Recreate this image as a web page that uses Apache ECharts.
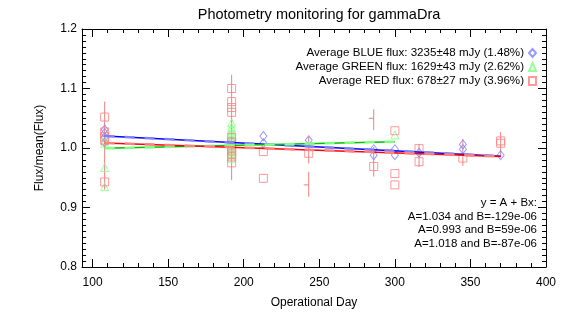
<!DOCTYPE html>
<html>
<head>
<meta charset="utf-8">
<script src="https://cdn.jsdelivr.net/npm/echarts@6/dist/echarts.min.js"></script>
<style>
  html, body { margin: 0; padding: 0; background: #fff; }
  #main { width: 581px; height: 322px; }
</style>
</head>
<body>
<div id="main"></div>
<script>
// 测光数据
var blueDays = [108, 108, 108, 108, 192, 213, 213, 243, 286, 286, 300, 300, 316, 345, 345, 370];
var blueFlux = [1.031, 1.025, 1.018, 1.009, 1.011, 1.020, 1.008, 1.013, 0.998, 0.988, 0.998, 0.988, 0.992, 1.006, 0.998, 0.988];

var greenDays = [108, 108, 108, 108, 192, 192, 192, 192, 192, 192, 192, 192, 192, 192, 192, 300];
var greenFlux = [1.013, 1.008, 0.967, 0.935, 1.042, 1.035, 1.030, 1.025, 1.020, 1.015, 1.005, 1.000, 0.995, 0.990, 0.983, 1.022];

var redDays = [108, 108, 108, 108, 108, 192, 192, 192, 192, 192, 192, 192, 192, 192, 192, 192, 213, 213, 243, 286, 300, 300, 300, 316, 316, 345, 370, 370];
var redFlux = [1.052, 1.027, 1.019, 1.013, 0.943, 1.100, 1.078, 1.068, 1.060, 1.018, 1.010, 1.000, 0.995, 0.990, 0.985, 0.975, 0.994, 0.949, 0.991, 0.969, 1.029, 0.957, 0.938, 0.999, 0.977, 0.983, 1.012, 1.008];

// 误差棒 [day, low, high]
var errDays = [108, 192, 243, 243, 286, 286, 316, 345, 370];
var errLow  = [0.930, 0.946, 0.974, 0.918, 1.030, 0.952, 0.968, 0.970, 0.985];
var errHigh = [1.078, 1.123, 1.019, 0.960, 1.065, 1.002, 1.007, 1.015, 1.027];
// 带小横线的点
var capDays = [243, 286];
var capFlux = [0.938, 1.050];

// 线性拟合 y = A + Bx
var fitA = [1.034, 0.993, 1.018];
var fitB = [-129e-6, 59e-6, -87e-6];
var fitStart = [108, 108, 108];
var fitEnd = [370, 300, 370];

var legendNames = ['BLUE', 'GREEN', 'RED'];
var legendText = {
  BLUE: 'Average BLUE flux: 3235\u00b148 mJy (1.48%)',
  GREEN: 'Average GREEN flux: 1629\u00b143 mJy (2.62%)',
  RED: 'Average RED flux: 678\u00b127 mJy (3.96%)'
};
var fitLines = ['y = A + Bx:', 'A=1.034 and B=-129e-06', 'A=0.993 and B=59e-06', 'A=1.018 and B=-87e-06'];

var xMajor = [100, 150, 200, 250, 300, 350, 400];
var xMinor = [];
for (var d = 100; d <= 400; d += 10) xMinor.push(d);

var font = 'Liberation Sans';

function pairs(xs, ys) {
  var out = [];
  for (var i = 0; i < xs.length; i++) out.push([xs[i], ys[i]]);
  return out;
}

var errData = [];
for (var i = 0; i < errDays.length; i++) errData.push([errDays[i], errLow[i], errHigh[i]]);

var darkColors = ['#0000ff', '#00c000', '#ff0000'];
var lightColors = ['#8080ff', '#80ff80', '#ff8080'];

function fitData(k) {
  return [[fitStart[k], fitA[k] + fitB[k] * fitStart[k]], [fitEnd[k], fitA[k] + fitB[k] * fitEnd[k]]];
}

var chart = echarts.init(document.getElementById('main'));

function xAx(pos, major) {
  return {
    type: 'value', min: 93, max: 400, position: pos,
    axisLine: { show: major, onZero: false, lineStyle: { color: '#000', width: 1 } },
    axisTick: { show: true, inside: true, length: major ? 8 : 4, customValues: major ? xMajor : xMinor, lineStyle: { color: '#000' } },
    axisLabel: { show: major && pos === 'bottom', customValues: xMajor, color: '#000', fontSize: 12, fontFamily: font, margin: 10 },
    splitLine: { show: false },
    name: (major && pos === 'bottom') ? 'Operational Day' : '',
    nameLocation: 'middle', nameGap: 30,
    nameTextStyle: { color: '#000', fontSize: 12, fontFamily: font }
  };
}

function yAx(pos) {
  return {
    type: 'value', min: 0.8, max: 1.2, interval: 0.1, position: pos,
    axisLine: { show: true, onZero: false, lineStyle: { color: '#000', width: 1 } },
    axisTick: { inside: true, length: 8, lineStyle: { color: '#000' } },
    minorTick: { show: true, splitNumber: 10, length: 4, lineStyle: { color: '#000' } },
    axisLabel: { show: pos === 'left', color: '#000', fontSize: 12, fontFamily: font, margin: 5,
      formatter: function(v) { return v.toFixed(1); } },
    splitLine: { show: false },
    name: pos === 'left' ? 'Flux/mean(Flux)' : '',
    nameLocation: 'middle', nameGap: 36,
    nameTextStyle: { color: '#000', fontSize: 12, fontFamily: font }
  };
}

var series = [];

// 误差棒
series.push({
  type: 'custom',
  data: errData,
  encode: { x: 0, y: [1, 2] },
  renderItem: function(params, api) {
    var top = api.coord([api.value(0), api.value(2)]);
    var bot = api.coord([api.value(0), api.value(1)]);
    return { type: 'line', shape: { x1: top[0], y1: top[1], x2: bot[0], y2: bot[1] },
      style: { stroke: '#f08080', lineWidth: 1 } };
  },
  z: 1
});
series.push({
  type: 'custom',
  data: pairs(capDays, capFlux),
  renderItem: function(params, api) {
    var p = api.coord([api.value(0), api.value(1)]);
    return { type: 'line', shape: { x1: p[0] - 5, y1: p[1], x2: p[0], y2: p[1] },
      style: { stroke: '#f08080', lineWidth: 1 } };
  },
  z: 1
});

var symbols = ['diamond', 'triangle', 'rect'];
var dayLists = [blueDays, greenDays, redDays];
var fluxLists = [blueFlux, greenFlux, redFlux];
for (var k = 0; k < 3; k++) {
  series.push({
    name: legendNames[k],
    type: 'scatter',
    data: pairs(dayLists[k], fluxLists[k]),
    symbol: symbols[k],
    symbolSize: k === 0 ? [7, 9] : 8,
    itemStyle: { color: 'rgba(0,0,0,0)', borderColor: lightColors[k], borderWidth: 1 },
    z: 2
  });
}
for (var k = 0; k < 3; k++) {
  series.push({
    type: 'line', data: fitData(k), symbol: 'none',
    lineStyle: { color: darkColors[k], width: 1.5 }, z: 3, silent: true
  });
  series.push({
    type: 'line', data: fitData(k), symbol: 'none',
    lineStyle: { color: lightColors[k], width: 2.5, type: [10, 10] }, z: 4, silent: true
  });
}

var graphics = [];
for (var i = 0; i < fitLines.length; i++) {
  graphics.push({
    type: 'text', x: 537, y: 203 + i * 13.5,
    style: { text: fitLines[i], textAlign: 'right', textVerticalAlign: 'middle', fill: '#000', font: '11.5px ' + font }
  });
}

var option = {
  animation: false,
  backgroundColor: '#fff',
  title: {
    text: 'Photometry monitoring for gammaDra',
    left: 314, top: 2, textAlign: 'center',
    textStyle: { color: '#000', fontSize: 14.5, fontWeight: 'normal', fontFamily: font }
  },
  grid: { left: 82, top: 29, right: 35, bottom: 55 },
  legend: {
    data: legendNames, orient: 'vertical', right: 39, top: 42, align: 'right',
    itemWidth: 7, itemHeight: 8, itemGap: 2,
    textStyle: { color: '#000', fontSize: 11.6, fontFamily: font },
    formatter: function(n) { return legendText[n]; }
  },
  xAxis: [xAx('bottom', true), xAx('bottom', false), xAx('top', true), xAx('top', false)],
  yAxis: [yAx('left'), yAx('right')],
  series: series,
  graphic: graphics
};

chart.setOption(option);
</script>
</body>
</html>
